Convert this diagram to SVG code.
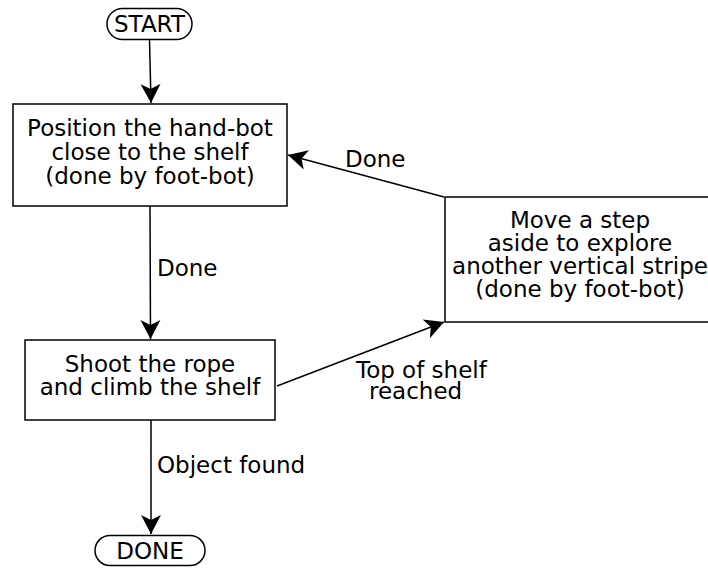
<svg xmlns="http://www.w3.org/2000/svg" width="708" height="568" viewBox="0 0 708 568">
<style>
.box{fill:#fff;stroke:#000;stroke-width:1.5}
.t{font-family:"DejaVu Sans",sans-serif;font-size:23px;fill:#000}
.c{text-anchor:middle}
.e{fill:none;stroke:#000;stroke-width:1.5;marker-end:url(#ah)}
</style>
<defs>
<marker id="ah" markerUnits="userSpaceOnUse" viewBox="-20 -11 21 22" refX="0" refY="0" markerWidth="21" markerHeight="22" orient="auto">
<path d="M0,0 L-19,-10 L-14,0 L-19,10 Z" fill="#000"/>
</marker>
</defs>
<g id="edges">
<path class="e" d="M149.5,40 L151,103"/>
<path class="e" d="M150,206 L150.5,339"/>
<path class="e" d="M151,420 L151,534"/>
<path class="e" d="M277,386 L444,322"/>
<path class="e" d="M444,197 L288,155"/>
<text class="t" x="157" y="276">Done</text>
<text class="t" x="345" y="167">Done</text>
<text class="t" x="356" y="378">Top of shelf</text>
<text class="t" x="369" y="399">reached</text>
<text class="t" x="157" y="473">Object found</text>
</g>
<g id="start">
<rect class="box" x="107" y="8.5" width="85" height="31" rx="15.5"/>
<text class="t c" x="149.5" y="32">START</text>
</g>
<g id="position">
<rect class="box" x="13" y="104" width="274" height="102"/>
<text class="t c" x="150" y="136">Position the hand-bot</text>
<text class="t c" x="150" y="160">close to the shelf</text>
<text class="t c" x="150" y="184">(done by foot-bot)</text>
</g>
<g id="shoot">
<rect class="box" x="25" y="340" width="250" height="80"/>
<text class="t c" x="150" y="372">Shoot the rope</text>
<text class="t c" x="150" y="395">and climb the shelf</text>
</g>
<g id="move">
<rect class="box" x="445" y="197" width="280" height="125"/>
<text class="t c" x="580" y="228">Move a step</text>
<text class="t c" x="580" y="251">aside to explore</text>
<text class="t c" x="580" y="274">another vertical stripe</text>
<text class="t c" x="580" y="297">(done by foot-bot)</text>
</g>
<g id="done">
<rect class="box" x="95" y="535.5" width="110" height="30" rx="15"/>
<text class="t c" x="150" y="559">DONE</text>
</g>
</svg>
